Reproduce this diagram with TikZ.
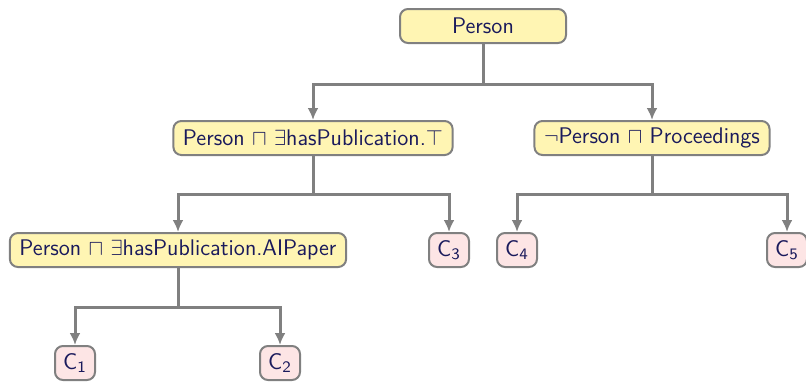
\documentclass[tikz,border=0pt]{standalone}
\usetikzlibrary{arrows.meta}
\definecolor{nodefill}{HTML}{FFF5B3}
\definecolor{leaffill}{HTML}{FDE5E5}
\definecolor{linegray}{HTML}{808080}
\definecolor{textblue}{HTML}{1A1A5C}
\tikzset{
  concept/.style={draw=linegray, line width=1pt, fill=nodefill, rounded corners=4pt,
    text=textblue, font=\sffamily\fontsize{11.3}{13}\selectfont, minimum height=17pt, inner xsep=4.8pt},
  leaf/.style={concept, fill=leaffill, minimum width=20pt, inner xsep=2pt},
  edge/.style={draw=linegray, line width=1.5pt, -{Latex[length=6pt,width=5.5pt]}}
}
\begin{document}
\begin{tikzpicture}[x=0.5pt, y=-0.5pt]
    \useasboundingbox (0, 0) rectangle (806, 381);

    \node[concept, minimum width=83pt] (person) at (483, 26) {Person};

    \node[concept] (pub) at (313, 138) {Person $\sqcap$ $\exists$hasPublication.$\top$};
    \node[concept] (proc) at (652, 138) {$\neg$Person $\sqcap$ Proceedings};

    \node[concept] (ai) at (178, 250) {Person $\sqcap$ $\exists$hasPublication.AIPaper};
    \node[leaf] (c3) at (449, 250) {C$_\mathsf{3}$};
    \node[leaf] (c4) at (517, 250) {C$_\mathsf{4}$};
    \node[leaf] (c5) at (787, 250) {C$_\mathsf{5}$};

    \node[leaf] (c1) at (75, 363) {C$_\mathsf{1}$};
    \node[leaf] (c2) at (280, 363) {C$_\mathsf{2}$};

    \draw[edge] (person.south) -- ++(0, 40) -| (pub.north);
    \draw[edge] (person.south) -- ++(0, 40) -| (proc.north);

    \draw[edge] (pub.south) -- ++(0, 38) -| (ai.north);
    \draw[edge] (pub.south) -- ++(0, 38) -| (c3.north);

    \draw[edge] (proc.south) -- ++(0, 38) -| (c4.north);
    \draw[edge] (proc.south) -- ++(0, 38) -| (c5.north);

    \draw[edge] (ai.south) -- ++(0, 39) -| (c1.north);
    \draw[edge] (ai.south) -- ++(0, 39) -| (c2.north);
\end{tikzpicture}
\end{document}
